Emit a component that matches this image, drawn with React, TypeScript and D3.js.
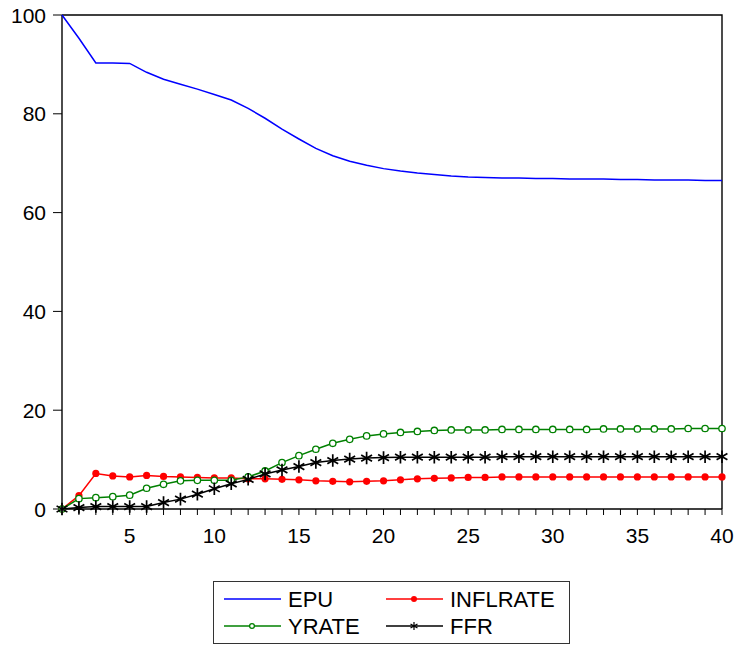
import React, { useEffect, useRef } from "react";
import * as d3 from "d3";

const periods: number[] = d3.range(1, 41);

const epu: number[] = [
  100, 95.3, 90.3, 90.3, 90.2, 88.4, 87.0, 86.0, 85.0, 83.9,
  82.8, 81.1, 79.1, 76.9, 74.9, 73.0, 71.5, 70.4, 69.6, 68.9,
  68.4, 68.0, 67.7, 67.4, 67.2, 67.1, 67.0, 67.0, 66.9, 66.9,
  66.8, 66.8, 66.8, 66.7, 66.7, 66.6, 66.6, 66.6, 66.5, 66.5,
];
const inflrate: number[] = [
  0, 2.7, 7.2, 6.7, 6.5, 6.8, 6.6, 6.5, 6.4, 6.3,
  6.3, 6.1, 6.1, 6.0, 5.9, 5.7, 5.6, 5.5, 5.6, 5.7,
  5.9, 6.1, 6.2, 6.3, 6.4, 6.4, 6.5, 6.5, 6.5, 6.5,
  6.5, 6.5, 6.5, 6.5, 6.5, 6.5, 6.5, 6.5, 6.5, 6.5,
];
const yrate: number[] = [
  0, 2.1, 2.3, 2.5, 2.8, 4.2, 5.0, 5.7, 5.8, 5.8,
  5.8, 6.5, 7.7, 9.4, 10.8, 12.1, 13.3, 14.1, 14.8, 15.2,
  15.5, 15.7, 15.9, 16.0, 16.0, 16.0, 16.1, 16.1, 16.1, 16.1,
  16.1, 16.1, 16.2, 16.2, 16.2, 16.2, 16.2, 16.3, 16.3, 16.3,
];
const ffr: number[] = [
  0, 0.3, 0.5, 0.5, 0.5, 0.5, 1.3, 2.0, 3.0, 4.1,
  5.1, 6.0, 7.1, 7.9, 8.6, 9.4, 9.8, 10.1, 10.3, 10.4,
  10.5, 10.5, 10.5, 10.5, 10.5, 10.5, 10.6, 10.6, 10.6, 10.6,
  10.6, 10.6, 10.6, 10.6, 10.6, 10.6, 10.6, 10.6, 10.6, 10.6,
];

const xLabels: number[] = [5, 10, 15, 20, 25, 30, 35, 40];
const yTicks: number[] = [0, 20, 40, 60, 80, 100];

type Marker = "none" | "dot" | "circle" | "star";
type Series = { name: string; values: number[]; color: string; marker: Marker };

const series: Series[] = [
  { name: "EPU", values: epu, color: "#0000ff", marker: "none" },
  { name: "INFLRATE", values: inflrate, color: "#ff0000", marker: "dot" },
  { name: "YRATE", values: yrate, color: "#008000", marker: "circle" },
  { name: "FFR", values: ffr, color: "#000000", marker: "star" },
];

const W = 736;
const H = 648;
const margin = { left: 62, right: 14, top: 15, bottom: 139 };
const FONT = "'Liberation Sans', Arial, sans-serif";

type G = d3.Selection<SVGGElement, unknown, null, undefined>;

const drawMarker = (g: G, kind: Marker, x: number, y: number, color: string, big: boolean) => {
  if (kind === "dot") {
    g.append("circle").attr("cx", x).attr("cy", y).attr("r", big ? 3.6 : 3)
      .attr("fill", color);
  } else if (kind === "circle") {
    g.append("circle").attr("cx", x).attr("cy", y).attr("r", big ? 3.2 : 2.4)
      .attr("fill", "white").attr("stroke", color).attr("stroke-width", 1.3);
  } else if (kind === "star") {
    const star = d3.symbol().type(d3.symbolAsterisk).size(big ? 110 : 45);
    g.append("path").attr("transform", `translate(${x},${y})`)
      .attr("d", star()!).attr("fill", "none")
      .attr("stroke", color).attr("stroke-width", big ? 1.7 : 1.2);
  }
};

const App = () => {
  const ref = useRef<SVGSVGElement>(null);

  useEffect(() => {
    document.body.style.margin = "0";
    if (!ref.current) return;
    const svg = d3.select(ref.current);
    svg.selectAll("*").remove();

    const x = d3.scaleLinear().domain([1, 40]).range([margin.left, W - margin.right]);
    const y = d3.scaleLinear().domain([0, 100]).range([H - margin.bottom, margin.top]);
    const [x0, x1] = x.range();
    const [y0, y1] = y.range();

    const plot = svg.append("g") as G;

    // frame (top + right)
    plot.append("path")
      .attr("d", `M${x0},${y1}H${x1}V${y0}`)
      .attr("fill", "none").attr("stroke", "#000").attr("stroke-width", 1.4);

    // x axis: ticks at every period, labels every 5
    const xAxis = plot.append("g");
    xAxis.append("line").attr("x1", x0).attr("x2", x1).attr("y1", y0).attr("y2", y0)
      .attr("stroke", "#000").attr("stroke-width", 1.4);
    xAxis.selectAll("line.tick").data(periods).join("line")
      .attr("class", "tick")
      .attr("x1", (d) => x(d)).attr("x2", (d) => x(d))
      .attr("y1", y0).attr("y2", y0 + 6)
      .attr("stroke", "#000").attr("stroke-width", 1);
    xAxis.selectAll("text").data(xLabels).join("text")
      .attr("x", (d) => x(d)).attr("y", y0 + 34)
      .attr("text-anchor", "middle")
      .attr("font-family", FONT).attr("font-size", 21)
      .text((d) => d);

    // y axis
    const yAxis = plot.append("g");
    yAxis.append("line").attr("x1", x0).attr("x2", x0).attr("y1", y0).attr("y2", y1)
      .attr("stroke", "#000").attr("stroke-width", 1.4);
    yAxis.selectAll("line.tick").data(yTicks).join("line")
      .attr("class", "tick")
      .attr("x1", x0 - 9).attr("x2", x0)
      .attr("y1", (d) => y(d)).attr("y2", (d) => y(d))
      .attr("stroke", "#000").attr("stroke-width", 1);
    yAxis.selectAll("text").data(yTicks).join("text")
      .attr("x", x0 - 16).attr("y", (d) => y(d))
      .attr("dy", "0.36em")
      .attr("text-anchor", "end")
      .attr("font-family", FONT).attr("font-size", 21)
      .text((d) => d);

    // lines + markers
    const line = d3.line<number>().x((_, i) => x(periods[i])).y((d) => y(d));
    series.forEach((s) => {
      plot.append("path").datum(s.values)
        .attr("d", line)
        .attr("fill", "none").attr("stroke", s.color).attr("stroke-width", 1.5);
      if (s.marker !== "none") {
        const mg = plot.append("g") as G;
        s.values.forEach((v, i) => drawMarker(mg, s.marker, x(periods[i]), y(v), s.color, true));
      }
    });

    // legend
    const lg = svg.append("g") as G;
    lg.append("rect").attr("x", 213.5).attr("y", 581.5).attr("width", 356).attr("height", 62)
      .attr("fill", "white").attr("stroke", "#333").attr("stroke-width", 1);
    const cols = [224, 386];
    const rows = [599, 626];
    const order = ["EPU", "INFLRATE", "YRATE", "FFR"];
    order.forEach((name, i) => {
      const s = series.find((d) => d.name === name)!;
      const lx = cols[i % 2];
      const ly = rows[Math.floor(i / 2)];
      lg.append("line").attr("x1", lx).attr("x2", lx + 57).attr("y1", ly).attr("y2", ly)
        .attr("stroke", s.color).attr("stroke-width", 1.5);
      drawMarker(lg, s.marker, lx + 28, ly, s.color, false);
      lg.append("text").attr("x", lx + 64).attr("y", ly + 7.5)
        .attr("font-family", FONT).attr("font-size", 22)
        .text(s.name);
    });
  }, []);

  return (
    <div>
      <svg ref={ref} width={W} height={H} style={{ display: "block", background: "white" }} />
    </div>
  );
};

export default App;
